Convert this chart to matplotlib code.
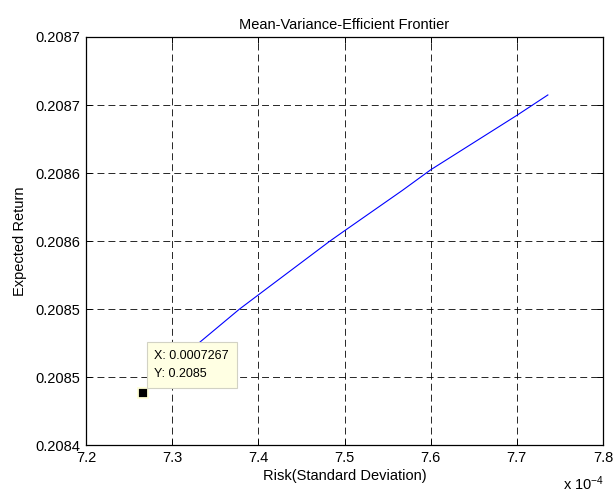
import matplotlib
matplotlib.use("Agg")
import matplotlib.pyplot as plt

plt.rcParams['font.family'] = ['Liberation Sans', 'DejaVu Sans']
plt.rcParams['mathtext.default'] = 'regular'
plt.rcParams['lines.scale_dashes'] = False

# frontier (risk, expected return)
risk = [7.266e-4, 7.332e-4, 7.378e-4, 7.400e-4, 7.483e-4, 7.500e-4,
        7.567e-4, 7.600e-4, 7.700e-4, 7.736e-4]
ret = [0.2084385, 0.2084757, 0.2085000, 0.2085105, 0.2085500, 0.2085576,
       0.2085872, 0.2086024, 0.2086424, 0.2086574]

# data tip
tip_x = 7.266e-4
tip_y = 0.2084385
tip_text = "X: 0.0007267\nY: 0.2085"

xticks = [7.2e-4, 7.3e-4, 7.4e-4, 7.5e-4, 7.6e-4, 7.7e-4, 7.8e-4]
xlabels = ['7.2', '7.3', '7.4', '7.5', '7.6', '7.7', '7.8']
yticks = [0.20840, 0.20845, 0.20850, 0.20855, 0.20860, 0.20865, 0.20870]
ylabels = ['0.2084', '0.2085', '0.2085', '0.2086', '0.2086', '0.2087', '0.2087']

fig = plt.figure(figsize=(6.13, 4.93), dpi=100)
ax = fig.add_axes([0.1403, 0.0968, 0.8434, 0.8282])

ax.plot(risk, ret, color='#0000ff', lw=0.8)
ax.plot([tip_x], [tip_y], 's', color='k', ms=7, mec='#ffffd8', mew=1.3, zorder=4)

ax.annotate(tip_text, xy=(tip_x, tip_y), xytext=(8.3, 31.2), textcoords='offset points',
            ha='left', va='top', fontsize=9, linespacing=1.75, zorder=5,
            bbox=dict(boxstyle='square,pad=0.6', fc='#ffffe3', ec='#d2d2c4', lw=0.8))

ax.set_xlim(xticks[0], xticks[-1])
ax.set_ylim(yticks[0], yticks[-1])
ax.set_xticks(xticks)
ax.set_xticklabels(xlabels)
ax.set_yticks(yticks)
ax.set_yticklabels(ylabels)

ax.grid(True, color='k', linestyle=(0, (5, 2.9)), linewidth=0.7, alpha=0.85)
ax.tick_params(direction='in', top=True, right=True, length=4, width=0.7,
               labelsize=10.5, pad=4)
for s in ax.spines.values():
    s.set_linewidth(0.9)

ax.set_title('Mean-Variance-Efficient Frontier', fontsize=10.5, pad=6)
ax.set_xlabel('Risk(Standard Deviation)', fontsize=10.5, labelpad=3)
ax.set_ylabel('Expected Return', fontsize=10.5, labelpad=6)
ax.text(0.9226, -0.109, 'x 10$^{-4}$', transform=ax.transAxes, fontsize=10.5,
        ha='left', va='baseline')

fig.savefig('out.png', dpi=100)
